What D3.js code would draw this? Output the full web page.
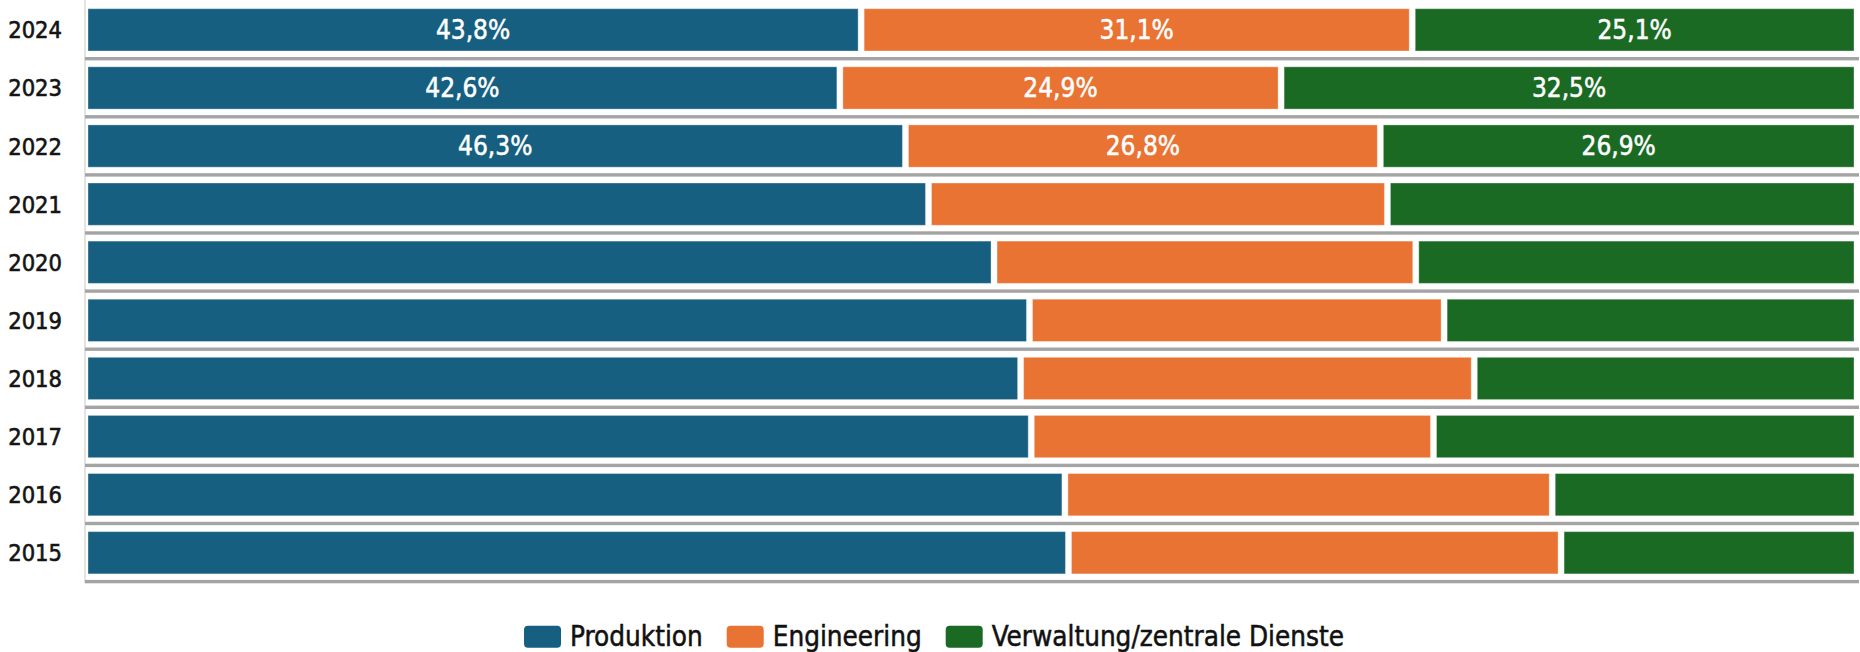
<!DOCTYPE html>
<html>
<head>
<meta charset="utf-8">
<script src="https://cdn.jsdelivr.net/npm/d3@7"></script>
<style>
  html, body { margin: 0; padding: 0; background: #ffffff; }
  svg { display: block; }
  text { font-family: "DejaVu Sans Condensed", "DejaVu Sans", sans-serif; }
</style>
</head>
<body>
<svg id="chart" width="1860" height="652"></svg>
<script>
// Employee share by area, per year (percent)
const years = ["2024", "2023", "2022", "2021", "2020", "2019", "2018", "2017", "2016", "2015"];
const produktion = [43.8, 42.6, 46.3, 47.6, 51.3, 53.3, 52.8, 53.4, 55.3, 55.5];
const engineering = [31.1, 24.9, 26.8, 25.9, 23.8, 23.4, 25.6, 22.7, 27.5, 27.8];
const verwaltung = [25.1, 32.5, 26.9, 26.5, 24.9, 23.3, 21.6, 23.9, 17.2, 16.7];
const seriesNames = ["Produktion", "Engineering", "Verwaltung/zentrale Dienste"];
const seriesColors = ["#175f80", "#e97333", "#1b6a24"];
const labeledYears = ["2024", "2023", "2022"];

const W = 1860, H = 652;
const svg = d3.select("#chart");

const rows = years.map((y, i) => ({
  year: y,
  Produktion: produktion[i],
  Engineering: engineering[i],
  "Verwaltung/zentrale Dienste": verwaltung[i]
}));

const stacked = d3.stack().keys(seriesNames)(rows);

const x = d3.scaleLinear().domain([0, 100]).range([85, 1857]);
const y = d3.scaleBand().domain(years).range([8.7, 573.9]).paddingInner(0.272).paddingOuter(0);
const color = d3.scaleOrdinal().domain(seriesNames).range(seriesColors);
const gap = 3;

const defs = svg.append("defs");
defs.append("filter").attr("id", "soft")
  .attr("x", "-1%").attr("y", "-100%").attr("width", "102%").attr("height", "300%")
  .append("feGaussianBlur").attr("stdDeviation", 0.7);

// left edge line of the row area
svg.append("line")
  .attr("x1", 85).attr("x2", 85)
  .attr("y1", 0).attr("y2", y(years[years.length - 1]) + y.bandwidth() + 9)
  .attr("stroke", "#e3e3e3").attr("stroke-width", 2);

// shadow under each row card
svg.append("g").attr("filter", "url(#soft)")
  .selectAll("rect").data(years).join("rect")
  .attr("x", 85).attr("width", 1859 - 85)
  .attr("y", d => y(d) + y.bandwidth() + 6)
  .attr("height", 3.4)
  .attr("fill", "#a4a4a4");

// bar segments
const layers = svg.append("g").selectAll("g").data(stacked).join("g")
  .attr("fill", d => color(d.key));

layers.selectAll("rect").data(d => d).join("rect")
  .attr("x", d => x(d[0]) + gap)
  .attr("width", d => x(d[1]) - x(d[0]) - 2 * gap)
  .attr("y", d => y(d.data.year))
  .attr("height", y.bandwidth())
  .attr("stroke", "#ffffff").attr("stroke-opacity", 0.35).attr("stroke-width", 1);

// value labels
layers.selectAll("text")
  .data(d => d.filter(s => labeledYears.includes(s.data.year)).map(s => ({ s, key: d.key })))
  .join("text")
  .attr("x", d => (x(d.s[0]) + x(d.s[1])) / 2)
  .attr("y", d => y(d.s.data.year) + y.bandwidth() / 2)
  .attr("dy", "0.36em")
  .attr("text-anchor", "middle")
  .attr("fill", "#ffffff")
  .attr("stroke", "#ffffff").attr("stroke-width", 0.5)
  .attr("font-size", 26)
  .text(d => d3.format(".1f")(d.s.data[d.key]).replace(".", ",") + "%");

// year axis
const yAxis = svg.append("g")
  .attr("transform", "translate(62,0)")
  .call(d3.axisLeft(y).tickSize(0).tickPadding(0));
yAxis.select(".domain").remove();
yAxis.selectAll("text")
  .attr("font-size", 23.5)
  .attr("fill", "#141414")
  .attr("stroke", "#141414").attr("stroke-width", 0.6)
  .attr("dy", "0.36em")
  .style("font-family", "'DejaVu Sans Condensed', 'DejaVu Sans', sans-serif");

// legend
const legend = svg.append("g");
const swW = 37, swH = 22, swTxt = 9, itemGap = 24;
const items = legend.selectAll("g").data(seriesNames).join("g");
items.append("rect")
  .attr("width", swW).attr("height", swH).attr("rx", 4)
  .attr("y", 625.7)
  .attr("fill", d => color(d));
items.append("text")
  .attr("x", swW + swTxt)
  .attr("y", 645.7)
  .attr("font-size", 27.6)
  .attr("fill", "#111111")
  .attr("stroke", "#111111").attr("stroke-width", 0.5)
  .text(d => d);
let cursor = 0;
const offsets = [];
items.each(function () {
  const w = swW + swTxt + d3.select(this).select("text").node().getComputedTextLength();
  offsets.push(cursor);
  cursor += w + itemGap;
});
const total = cursor - itemGap;
const start = 934 - total / 2;
items.attr("transform", (d, i) => `translate(${start + offsets[i]},0)`);
</script>
</body>
</html>
